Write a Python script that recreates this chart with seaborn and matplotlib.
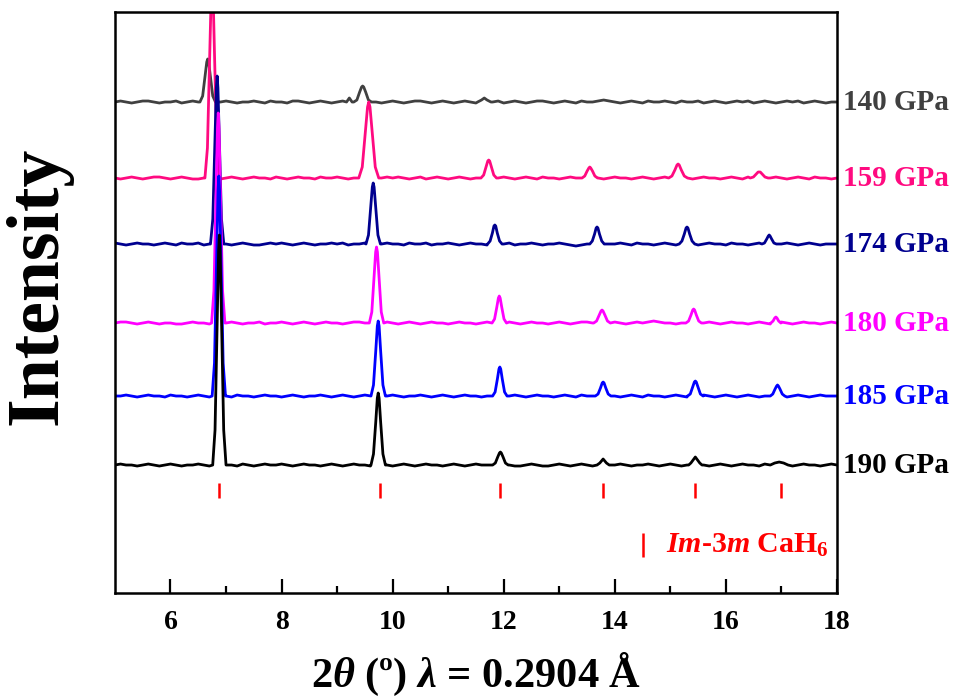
import numpy as np
import pandas as pd
import matplotlib
matplotlib.use("Agg")
import matplotlib.pyplot as plt
import seaborn as sns

###############################################################################
# Data (intensity in arbitrary units)
###############################################################################
pressures = ['140 GPa', '159 GPa', '174 GPa', '180 GPa', '185 GPa', '190 GPa']
colors = ['#404040', '#FF0A80', '#00008F', '#FF00FF', '#0000FF', '#000000']
offsets = [491, 415, 349, 270, 197, 128]

# background sampling positions (2theta)
bg_two_theta = [5.0, 5.1, 5.2, 5.3, 5.4, 5.5, 5.6, 5.7, 5.8, 5.9,
                6.0, 6.1, 6.2, 6.3, 6.4, 6.5, 6.6, 6.7, 6.8, 6.9,
                7.0, 7.1, 7.2, 7.3, 7.4, 7.5, 7.6, 7.7, 7.8, 7.9,
                8.0, 8.1, 8.2, 8.3, 8.4, 8.5, 8.6, 8.7, 8.8, 8.9,
                9.0, 9.1, 9.2, 9.3, 9.4, 9.5, 9.6, 9.7, 9.8, 9.9,
                10.0, 10.1, 10.2, 10.3, 10.4, 10.5, 10.6, 10.7, 10.8, 10.9,
                11.0, 11.1, 11.2, 11.3, 11.4, 11.5, 11.6, 11.7, 11.8, 11.9,
                12.0, 12.1, 12.2, 12.3, 12.4, 12.5, 12.6, 12.7, 12.8, 12.9,
                13.0, 13.1, 13.2, 13.3, 13.4, 13.5, 13.6, 13.7, 13.8, 13.9,
                14.0, 14.1, 14.2, 14.3, 14.4, 14.5, 14.6, 14.7, 14.8, 14.9,
                15.0, 15.1, 15.2, 15.3, 15.4, 15.5, 15.6, 15.7, 15.8, 15.9,
                16.0, 16.1, 16.2, 16.3, 16.4, 16.5, 16.6, 16.7, 16.8, 16.9,
                17.0, 17.1, 17.2, 17.3, 17.4, 17.5, 17.6, 17.7, 17.8, 17.9,
                18.0]

# hand-read background wiggles of each pattern
bg_140 = [0, 1, 0, -1, 0, 1, 1, 0, -1, 0,
          0, 1, -1, 0, 1, 0, -1, 0, 1, 0,
          1, 0, -1, 0, 0, 1, 0, -1, 1, 0,
          0, -1, 1, 1, 0, -1, 0, 1, 0, -1,
          0, 1, 0, -1, 0, 1, 0, 0, -1, 0,
          1, 0, -1, 0, 1, 1, 0, -1, 0, 1,
          0, -1, 0, 1, 0, -1, 1, 0, 0, 1,
          -1, 0, 1, 0, -1, 0, 1, 1, 0, -1,
          0, 1, 0, -1, 1, 0, 0, 1, 2, 1,
          0, -1, 0, 1, 0, -1, 1, 0, 0, 1,
          0, -1, 1, 0, 0, 1, -1, 0, 1, 0,
          -1, 0, 1, 0, 1, -1, 0, 1, 0, -1,
          0, 1, 0, 1, -1, 0, 1, 0, -1, 0,
          0]
bg_159 = [0, -1, 0, 1, 0, -1, 0, 1, 1, 0,
          -1, 0, 1, 0, -1, -1, 0, 1, 0, -1,
          0, 1, 0, -1, 0, 1, 0, 0, -1, 1,
          0, -1, 0, 1, 0, 0, -1, 1, 0, 0,
          1, 0, -1, 0, 1, 0, 0, -1, 0, 1,
          0, 1, 0, -1, 0, 1, -1, 0, 1, 0,
          -1, 0, 1, 0, -1, 0, 1, 0, -1, 0,
          1, 0, -1, 0, 1, 0, -1, 1, 0, 0,
          -1, 0, 1, 0, 0, -1, 1, 0, -1, 0,
          1, 0, 0, -1, 0, 1, 0, -1, 0, 1,
          0, -1, 1, 0, -1, 0, 1, 0, 0, -1,
          0, 1, 0, -1, 1, 0, 0, -1, 0, 1,
          0, -1, 0, 1, 0, -1, 1, 0, 0, -1,
          0]
bg_174 = [1, 0, -1, 0, 1, 0, 0, -1, 0, 1,
          0, -1, 1, 0, 0, 1, -1, 0, 0, 1,
          0, -1, 0, 1, 0, -1, -1, 0, 1, 0,
          1, 0, -1, 0, 1, 0, -1, 0, 0, 1,
          0, 1, -1, 0, 0, 1, 0, -1, 0, 1,
          0, 0, -1, 1, 0, 0, 1, -1, 0, 0,
          1, 0, -1, 0, 1, 0, 0, -1, 1, 0,
          0, 1, -1, 0, 0, 1, 0, -1, 0, 0,
          1, 0, -1, -2, -1, 0, 1, 0, -1, 0,
          0, 1, 0, -1, 1, 0, 0, -1, 0, 1,
          0, -1, 0, 1, 0, -1, 0, 1, 0, 0,
          -1, 1, 0, 0, -1, 0, 1, 0, 0, -1,
          0, 1, 0, -1, 0, 1, 0, -1, 0, 0,
          0]
bg_180 = [0, 1, 1, 0, -1, 0, 1, 0, -1, 0,
          0, -1, -1, 0, 1, 0, 0, -1, 0, 1,
          0, 1, 0, -1, 0, 0, 1, -1, 0, 0,
          1, 0, -1, 0, 1, 0, -1, 0, 1, 0,
          0, -1, 0, 1, 1, 0, -1, 0, 0, 1,
          0, -1, 0, 1, 0, -1, 0, 1, 0, 0,
          -1, 0, 1, 0, 0, -1, 0, 1, 0, -1,
          0, 1, 0, -1, 0, 1, 0, 0, -1, 0,
          1, 0, -1, 0, 1, 1, 0, -1, 0, 0,
          1, 0, -1, 0, 1, 0, 1, 2, 1, 0,
          0, -1, 0, 1, 0, -1, 0, 1, 0, -1,
          0, 1, 0, 0, -1, 0, 1, 0, -1, 0,
          1, 0, -1, 0, 1, 0, 0, -1, 0, 1,
          0]
bg_185 = [0, 0, 1, 0, -1, 0, 1, 0, 0, -1,
          1, 0, 0, -1, 0, 1, 0, -1, 0, 1,
          0, -1, 1, 0, 0, -1, 0, 1, 0, 0,
          -1, 0, 1, 0, -1, 0, 0, 1, 0, -1,
          0, 1, 0, -1, 0, 1, 0, 0, -1, 0,
          1, 0, -1, 0, 0, 1, 0, -1, 0, 1,
          0, -1, 0, 1, 0, 0, -1, 0, 1, 0,
          -1, 0, 1, 0, -1, 0, 1, 0, 0, -1,
          0, 1, 0, -1, 1, 0, 0, -1, 0, 1,
          0, -1, 0, 1, 0, -1, 1, 0, 0, -1,
          0, 1, 0, -1, 0, 0, 1, 0, -1, 0,
          1, 0, -1, 0, 1, 0, -1, 0, 1, 0,
          0, -1, 0, 1, 0, -1, 0, 1, 0, 0,
          0]
bg_190 = [0, 1, 0, 0, -1, 0, 1, 0, -1, 0,
          1, 0, -1, 0, 0, 1, 0, -1, 0, 1,
          0, 0, -1, 1, 0, -1, 0, 1, 0, 0,
          1, 0, -1, 0, 1, 0, 0, -1, 0, 1,
          0, -1, 0, 1, 0, 0, -1, 1, 0, 0,
          -1, 0, 1, 0, -1, 0, 1, 0, 0, -1,
          0, 1, 0, -1, 0, 1, 0, 0, -1, 0,
          1, 0, -1, -1, 0, 1, 0, -1, -1, 0,
          1, 0, -1, 0, 1, 0, -1, 0, 1, 0,
          0, 1, 0, -1, 0, 0, 1, 0, -1, 0,
          1, 0, -1, 0, 1, 0, 0, -1, 0, 1,
          0, -1, 0, 1, 0, 0, -1, 1, 0, 0,
          1, 0, -1, 0, 1, 0, 0, -1, 0, 1,
          0]

# Bragg peaks of each pattern as (2theta, intensity) points
peaks_140 = [
    [(6.53, 0), (6.579, 6), (6.622, 26), (6.653, 40), (6.67, 43), (6.687, 40), (6.718, 26), (6.761, 6), (6.81, 0)],
    [(9.17, 0), (9.22, 4), (9.27, 0)],
    [(9.30, 0), (9.356, 2), (9.406, 10), (9.441, 15), (9.46, 16), (9.479, 15), (9.514, 10), (9.564, 2), (9.62, 0)],
    [(11.53, 0), (11.60, 2), (11.65, 4), (11.70, 2), (11.77, 0)]]
peaks_159 = [
    [(6.62, 0), (6.665, 30), (6.706, 120), (6.734, 186), (6.75, 200), (6.766, 186), (6.794, 120), (6.835, 30), (6.88, 0)],
    [(9.39, 0), (9.453, 11), (9.509, 46), (9.548, 71), (9.57, 76), (9.592, 71), (9.631, 46), (9.687, 11), (9.75, 0)],
    [(11.59, 0), (11.639, 3), (11.682, 11), (11.713, 17), (11.73, 18), (11.747, 17), (11.778, 11), (11.821, 3), (11.87, 0)],
    [(13.41, 0), (13.459, 2), (13.502, 7), (13.533, 10), (13.55, 11), (13.567, 10), (13.598, 7), (13.641, 2), (13.69, 0)],
    [(14.97, 0), (15.029, 2), (15.082, 8), (15.12, 13), (15.14, 14), (15.16, 13), (15.198, 8), (15.251, 2), (15.31, 0)],
    [(16.44, 0), (16.496, 1), (16.546, 4), (16.581, 6), (16.60, 6), (16.619, 6), (16.654, 4), (16.704, 1), (16.76, 0)]]
peaks_174 = [
    [(6.72, 0), (6.762, 25), (6.799, 101), (6.826, 156), (6.84, 168), (6.854, 156), (6.881, 101), (6.918, 25), (6.96, 0)],
    [(9.52, 0), (9.565, 9), (9.606, 37), (9.634, 57), (9.65, 61), (9.666, 57), (9.694, 37), (9.735, 9), (9.78, 0)],
    [(11.71, 0), (11.755, 3), (11.796, 11), (11.824, 18), (11.84, 19), (11.856, 18), (11.884, 11), (11.925, 3), (11.97, 0)],
    [(13.55, 0), (13.595, 3), (13.636, 10), (13.664, 16), (13.68, 17), (13.696, 16), (13.724, 10), (13.765, 3), (13.81, 0)],
    [(15.16, 0), (15.209, 3), (15.252, 10), (15.283, 16), (15.30, 17), (15.317, 16), (15.348, 10), (15.391, 3), (15.44, 0)],
    [(16.65, 0), (16.695, 1), (16.736, 5), (16.764, 8), (16.78, 9), (16.796, 8), (16.824, 5), (16.865, 1), (16.91, 0)]]
peaks_180 = [
    [(6.74, 0), (6.782, 32), (6.819, 126), (6.846, 195), (6.86, 210), (6.874, 195), (6.901, 126), (6.938, 32), (6.98, 0)],
    [(9.58, 0), (9.625, 11), (9.666, 46), (9.694, 71), (9.71, 76), (9.726, 71), (9.754, 46), (9.795, 11), (9.84, 0)],
    [(11.79, 0), (11.835, 4), (11.876, 16), (11.904, 25), (11.92, 27), (11.936, 25), (11.964, 16), (12.005, 4), (12.05, 0)],
    [(13.62, 0), (13.672, 2), (13.719, 8), (13.752, 12), (13.77, 13), (13.788, 12), (13.821, 8), (13.868, 2), (13.92, 0)],
    [(15.28, 0), (15.329, 2), (15.372, 8), (15.403, 13), (15.42, 14), (15.437, 13), (15.468, 8), (15.511, 2), (15.56, 0)],
    [(16.81, 0), (16.85, 2), (16.88, 5), (16.90, 6), (16.92, 5), (16.95, 2), (16.99, 0)]]
peaks_185 = [
    [(6.75, 0), (6.792, 33), (6.829, 132), (6.856, 205), (6.87, 220), (6.884, 205), (6.911, 132), (6.948, 33), (6.99, 0)],
    [(9.61, 0), (9.655, 11), (9.696, 45), (9.724, 70), (9.74, 75), (9.756, 70), (9.784, 45), (9.825, 11), (9.87, 0)],
    [(11.80, 0), (11.845, 4), (11.886, 17), (11.914, 27), (11.93, 29), (11.946, 27), (11.974, 17), (12.015, 4), (12.06, 0)],
    [(13.65, 0), (13.699, 2), (13.742, 8), (13.773, 13), (13.79, 14), (13.807, 13), (13.838, 8), (13.881, 2), (13.93, 0)],
    [(15.31, 0), (15.359, 2), (15.402, 9), (15.433, 14), (15.45, 15), (15.467, 14), (15.498, 9), (15.541, 2), (15.59, 0)],
    [(16.80, 0), (16.845, 2), (16.886, 7), (16.914, 10), (16.93, 11), (16.946, 10), (16.974, 7), (17.015, 2), (17.06, 0)]]
peaks_190 = [
    [(6.76, 0), (6.802, 35), (6.839, 138), (6.866, 214), (6.88, 230), (6.894, 214), (6.921, 138), (6.958, 35), (7.00, 0)],
    [(9.61, 0), (9.655, 11), (9.696, 43), (9.724, 67), (9.74, 72), (9.756, 67), (9.784, 43), (9.825, 11), (9.87, 0)],
    [(11.80, 0), (11.849, 2), (11.892, 8), (11.923, 12), (11.94, 13), (11.957, 12), (11.988, 8), (12.031, 2), (12.08, 0)],
    [(13.68, 0), (13.73, 2), (13.76, 4), (13.79, 6), (13.82, 4), (13.85, 2), (13.90, 0)],
    [(15.33, 0), (15.37, 2), (15.41, 5), (15.45, 8), (15.49, 5), (15.53, 2), (15.57, 0)],
    [(16.80, 0), (16.88, 2), (16.96, 3), (17.04, 2), (17.12, 0)]]

backgrounds = [bg_140, bg_159, bg_174, bg_180, bg_185, bg_190]
peak_sets = [peaks_140, peaks_159, peaks_174, peaks_180, peaks_185, peaks_190]

# Im-3m CaH6 reflections
cah6_positions = [6.87, 9.77, 11.94, 13.78, 15.44, 16.99]

for bg in backgrounds:
    assert len(bg) == len(bg_two_theta)


###############################################################################
# Build one curve per pressure
###############################################################################
def build_pattern(bg, peaks, offset):
    pts = []
    for x, y in zip(bg_two_theta, bg):
        inside = any(p[0][0] <= x <= p[-1][0] for p in peaks)
        if not inside:
            pts.append((x, y))
    for p in peaks:
        pts.extend(p)
    df = pd.DataFrame(pts, columns=['two_theta', 'intensity'])
    df = df.sort_values('two_theta').reset_index(drop=True)
    df['intensity'] = df['intensity'] + offset
    return df


###############################################################################
# Plot
###############################################################################
sns.set_style("ticks")
plt.rcParams['font.family'] = ['Liberation Serif', 'DejaVu Serif']
plt.rcParams['font.weight'] = 'bold'
plt.rcParams['text.color'] = 'black'
plt.rcParams['axes.edgecolor'] = 'black'
plt.rcParams['xtick.color'] = 'black'
plt.rcParams['mathtext.fontset'] = 'custom'
plt.rcParams['mathtext.rm'] = 'Liberation Serif:bold'
plt.rcParams['mathtext.it'] = 'Liberation Serif:italic:bold'
plt.rcParams['mathtext.bf'] = 'Liberation Serif:bold'

fig = plt.figure(figsize=(9.54, 6.98), dpi=100)
ax = fig.add_axes([0.1205, 0.1504, 0.7568, 0.8324])

for lab, col, bg, pk, off in zip(pressures, colors, backgrounds, peak_sets, offsets):
    df = build_pattern(bg, pk, off)
    sns.lineplot(data=df, x='two_theta', y='intensity', color=col,
                 linewidth=2.0, sort=False, ax=ax)
    ax.text(1.008, off, lab, color=col, fontsize=21, fontweight='bold',
            ha='left', va='center',
            transform=ax.get_yaxis_transform())

# reference ticks
ax.vlines(cah6_positions, 95, 110, color='red', linewidth=1.8)

# legend entry drawn by hand
ax.vlines([14.5], 36, 60, color='red', linewidth=1.8)
ax.text(14.93, 48, r'$\mathit{Im}$-3$\mathit{m}$ CaH$_6$', color='red',
        fontsize=21.5, ha='left', va='center')

ax.set_xlim(5, 18)
ax.set_ylim(0, 581)
ax.set_xticks([6, 8, 10, 12, 14, 16, 18])
ax.set_xticks([7, 9, 11, 13, 15, 17], minor=True)
ax.set_yticks([])
ax.tick_params(axis='x', which='major', direction='in', length=10, width=1.6,
               labelsize=20, pad=12)
ax.tick_params(axis='x', which='minor', direction='in', length=5, width=1.6)
for lbl in ax.get_xticklabels():
    lbl.set_fontweight('bold')
for s in ax.spines.values():
    s.set_linewidth(1.8)
    s.set_visible(True)
    s.set_color('black')

ax.set_xlabel('')
ax.set_ylabel('')
fig.text(0.499, 0.034, r'2$\theta$ (º) $\lambda$ = 0.2904 Å', fontsize=30.5,
         ha='center', va='center')
fig.text(0.04, 0.59, 'Intensity', fontsize=53, fontweight='bold',
         rotation=90, ha='center', va='center')

fig.savefig('out.png', dpi=100)
